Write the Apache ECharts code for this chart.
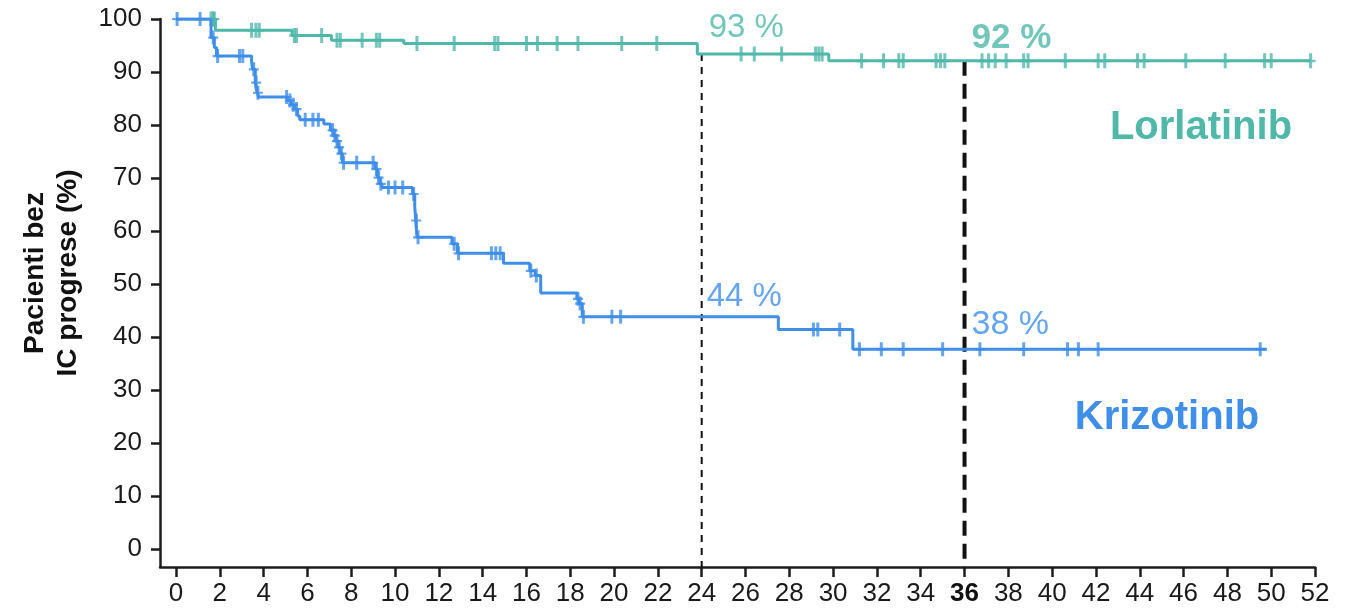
<!DOCTYPE html>
<html>
<head>
<meta charset="utf-8">
<title>Pacienti bez IC progrese</title>
<script src="https://cdn.jsdelivr.net/npm/echarts/dist/echarts.min.js"></script>
<style>
  html, body { margin: 0; padding: 0; background: #ffffff; }
  #chart { width: 1365px; height: 610px; }
</style>
</head>
<body>
<div id="chart"></div>
<script>
// Kaplan-Meier curves: times (months) where survival changes, and the level from that time on
const lorTimes = [0, 1.8, 5.3, 7.1, 10.4, 23.8, 29.8, 51.8];
const lorSurv  = [100, 97.9, 96.9, 96.0, 95.4, 93.4, 92.1, 92.1];
const lorCensored = [1.6, 1.7, 1.75, 3.45, 3.65, 3.8, 5.4, 5.5, 6.65, 7.35, 7.5, 8.5, 9.15, 9.3,
  11.0, 12.7, 14.55, 14.7, 16.0, 16.5, 17.4, 18.35, 20.35, 21.95, 25.8, 26.4, 27.65, 29.2, 29.35,
  29.5, 31.3, 32.3, 33.0, 33.2, 34.7, 34.9, 35.1, 36.8, 37.1, 37.4, 37.9, 38.7, 38.9, 40.6, 42.1,
  42.4, 43.9, 44.2, 46.1, 47.9, 49.7, 50.0, 51.8];

const kriTimes = [0, 1.6, 1.75, 1.85, 3.45, 3.5, 3.62, 3.7, 3.78, 5.1, 5.25, 5.4, 5.55, 5.65, 6.75,
  7.05, 7.2, 7.3, 7.4, 7.5, 7.6, 9.1, 9.2, 9.3, 9.4, 10.8, 10.9, 10.95, 11.0, 12.6, 12.85, 14.95,
  16.15, 16.4, 16.65, 18.3, 18.4, 18.55, 27.5, 30.9, 49.8];
const kriSurv  = [100, 96.5, 94.6, 93.0, 92.0, 90.5, 88.0, 86.1, 85.3, 84.6, 83.8, 83.0, 81.7, 81.0, 80.2,
  79.0, 78.0, 77.0, 75.8, 74.6, 72.9, 71.7, 70.1, 68.9, 68.2, 67.0, 64.5, 62.0, 58.8, 57.6, 55.8, 53.9,
  52.5, 51.6, 48.3, 47.2, 46.3, 43.8, 41.4, 37.7, 37.7];
const kriCensored = [0.05, 1.1, 1.7, 1.9, 2.9, 3.05, 3.55, 3.66, 3.74, 5.05, 5.2, 5.35, 5.5, 5.9, 6.25,
  6.5, 7.15, 7.25, 7.35, 7.45, 7.55, 7.65, 8.25, 9.0, 9.15, 9.25, 9.35, 9.7, 10.0, 10.35, 10.85, 10.97,
  11.05, 12.7, 12.9, 14.4, 14.6, 14.8, 16.2, 16.45, 18.35, 18.45, 18.6, 19.9, 20.3, 29.1, 29.3, 30.3,
  31.2, 32.2, 33.2, 35.0, 36.7, 38.7, 40.7, 41.2, 42.1, 49.5];

// Landmark months marked with dashed guides and rate labels
const landmarks = [24, 36];
const seriesNames = ['Lorlatinib', 'Krizotinib'];
const yTitle = ['Pacienti bez', 'IC progrese (%)'];

const TEAL = '#4fb8a9';
const BLUE = '#3f8ee8';
const AXIS = '#1c1c1c';
const FONT = "'Liberation Sans', Arial, sans-serif";
const PLUS = 'path://M3.5 0H6.5V14H3.5ZM0 6H10V8.2H0Z';

// level of a step curve at month t
function levelAt(times, surv, t) {
  let v = surv[0];
  for (let i = 0; i < times.length; i++) { if (times[i] <= t) v = surv[i]; }
  return v;
}
const zip = (a, b) => a.map((t, i) => [t, b[i]]);
const censorPoints = (c, times, surv) => c.map(t => [t, levelAt(times, surv, t)]);

// dashed guides run from the curve down to the offset x axis line
const AXIS_FLOOR = -3.4;

const chart = echarts.init(document.getElementById('chart'), null, { renderer: 'canvas' });

function pctLabel(month, times, surv, color, bold, size, dx, dy) {
  const v = levelAt(times, surv, month);
  return {
    value: [month, v],
    label: {
      show: true, position: 'right', distance: dx, offset: [0, dy],
      formatter: Math.round(v) + ' %',
      color: color, fontFamily: FONT, fontSize: size,
      fontWeight: bold ? 'bold' : 'normal'
    }
  };
}

const option = {
  animation: false,
  backgroundColor: '#ffffff',
  grid: [
    { left: 176, right: 50, top: 19, bottom: 61 },
    { left: 160, right: 50, top: 19, bottom: 43 }
  ],
  xAxis: [
    {
      gridIndex: 0, type: 'value', min: 0, max: 52, interval: 2, offset: 18,
      axisLine: { show: false, onZero: false },
      axisTick: { show: true, length: 10, lineStyle: { color: AXIS, width: 2.5 } },
      axisLabel: {
        margin: 14, fontSize: 26, color: '#1a1a1a', fontFamily: FONT,
        showMinLabel: true, showMaxLabel: true,
        formatter: v => (v === 36 ? '{b|36}' : String(v)),
        rich: { b: { fontSize: 26, fontWeight: 'bold', color: '#111', fontFamily: FONT } }
      },
      splitLine: { show: false }
    },
    {
      gridIndex: 1, type: 'value', min: 0, max: 1,
      axisLine: { show: true, onZero: false, lineStyle: { color: AXIS, width: 2.5 } },
      axisTick: { show: false }, axisLabel: { show: false }, splitLine: { show: false }
    }
  ],
  yAxis: [
    {
      gridIndex: 0, type: 'value', min: 0, max: 100, interval: 10, offset: 16,
      axisLine: { show: false, onZero: false },
      axisTick: { show: true, length: 9, lineStyle: { color: AXIS, width: 2.5 } },
      axisLabel: { margin: 18, fontSize: 26, color: '#1a1a1a', fontFamily: FONT },
      splitLine: { show: false }
    },
    {
      gridIndex: 1, type: 'value', min: 0, max: 1,
      axisLine: { show: true, onZero: false, lineStyle: { color: AXIS, width: 2.5 } },
      axisTick: { show: false }, axisLabel: { show: false }, splitLine: { show: false }
    }
  ],
  series: [
    {
      name: seriesNames[0] + ' guide ' + landmarks[0], type: 'line', clip: false, silent: true,
      symbol: 'none', z: 1,
      data: [[landmarks[0], levelAt(lorTimes, lorSurv, landmarks[0])], [landmarks[0], AXIS_FLOOR]],
      lineStyle: { color: '#111', width: 2, type: [7, 6] }
    },
    {
      name: seriesNames[0] + ' guide ' + landmarks[1], type: 'line', clip: false, silent: true,
      symbol: 'none', z: 1,
      data: [[landmarks[1], levelAt(lorTimes, lorSurv, landmarks[1])], [landmarks[1], AXIS_FLOOR]],
      lineStyle: { color: '#111', width: 4, type: [15, 8] }
    },
    {
      name: seriesNames[0], type: 'line', step: 'end', symbol: 'none', z: 3,
      data: zip(lorTimes, lorSurv),
      lineStyle: { color: TEAL, width: 3 }
    },
    {
      name: seriesNames[0] + ' censored', type: 'scatter', symbol: PLUS, symbolSize: [10, 15], z: 3,
      data: censorPoints(lorCensored, lorTimes, lorSurv),
      itemStyle: { color: TEAL }
    },
    {
      name: seriesNames[1], type: 'line', step: 'end', symbol: 'none', z: 4,
      data: zip(kriTimes, kriSurv),
      lineStyle: { color: BLUE, width: 3 }
    },
    {
      name: seriesNames[1] + ' censored', type: 'scatter', symbol: PLUS, symbolSize: [10, 14], z: 4,
      data: censorPoints(kriCensored, kriTimes, kriSurv),
      itemStyle: { color: BLUE }
    },
    {
      name: 'rates', type: 'scatter', symbolSize: 0, silent: true, z: 5,
      data: [
        pctLabel(landmarks[0], lorTimes, lorSurv, TEAL, false, 33, 7, -26),
        pctLabel(landmarks[1], lorTimes, lorSurv, TEAL, true, 35, 7, -23),
        pctLabel(landmarks[0], kriTimes, kriSurv, BLUE, false, 33, 5, -20),
        pctLabel(landmarks[1], kriTimes, kriSurv, BLUE, false, 34, 7, -25)
      ]
    }
  ],
  graphic: [
    {
      type: 'text', x: 52, y: 273, rotation: Math.PI / 2,
      style: {
        text: yTitle.join('\n'), fill: '#111', font: 'bold 28px ' + FONT,
        textAlign: 'center', textVerticalAlign: 'middle', lineHeight: 33
      }
    },
    {
      type: 'text', x: 1201, y: 128,
      style: { text: seriesNames[0], fill: TEAL, font: 'bold 40px ' + FONT, textAlign: 'center', textVerticalAlign: 'middle' }
    },
    {
      type: 'text', x: 1167, y: 418,
      style: { text: seriesNames[1], fill: BLUE, font: 'bold 40px ' + FONT, textAlign: 'center', textVerticalAlign: 'middle' }
    }
  ]
};

chart.setOption(option);
</script>
</body>
</html>
